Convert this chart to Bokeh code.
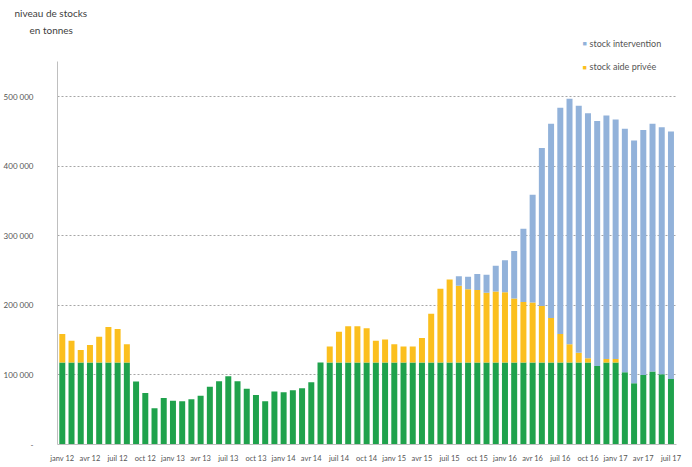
from bokeh.plotting import figure
from bokeh.models import ColumnDataSource, Range1d, FixedTicker, Label, Title
from bokeh.embed import file_html
from bokeh.resources import INLINE

# ---- data (tonnes), monthly janv 12 .. juil 17 ----
tick_labels = ["janv 12", "avr 12", "juil 12", "oct 12", "janv 13", "avr 13", "juil 13", "oct 13",
               "janv 14", "avr 14", "juil 14", "oct 14", "janv 15", "avr 15", "juil 15", "oct 15",
               "janv 16", "avr 16", "juil 16", "oct 16", "janv 17", "avr 17", "juil 17"]

stock_base = [118000, 118000, 118000, 118000, 118000, 118000, 118000, 118000,
              90500, 74000, 52000, 67000, 63000, 62000, 65000, 70000,
              83000, 91000, 98000, 91000, 80000, 71000, 62000, 76000,
              75000, 78000, 81000, 89500, 118000, 118000, 118000, 118000,
              118000, 118000, 118000, 118000, 118000, 118000, 118000, 118000,
              118000, 118000, 118000, 118000, 118000, 118000, 118000, 118000,
              118000, 118000, 118000, 118000, 118000, 118000, 118000, 118000,
              118000, 118000, 113000, 118000, 118000, 104000, 88000, 100000,
              105000, 101000, 94000]

stock_prive = [41000, 31000, 18000, 25000, 37000, 51000, 48000, 26000,
               0, 0, 0, 0, 0, 0, 0, 0,
               0, 0, 0, 0, 0, 0, 0, 0,
               0, 0, 0, 0, 0, 23000, 44000, 52000,
               52000, 49000, 31000, 33000, 26000, 23000, 23000, 35000,
               70000, 106000, 119000, 110000, 105000, 104000, 100000, 102000,
               101000, 92000, 87000, 86000, 81000, 64000, 41000, 26000,
               14000, 6000, 0, 5000, 5000, 0, 0, 0,
               0, 0, 0]

stock_intervention = [0] * 43 + [14000, 18000, 23000, 26000, 37000, 46000, 68000, 105000,
                                 155000, 227000, 279000, 325000, 353000, 355000, 352000, 352000,
                                 350000, 344000, 350000, 349000, 352000, 356000, 355000, 356000]

y_ticks = [0, 100000, 200000, 300000, 400000, 500000]
y_tick_labels = ["-", "100 000", "200 000", "300 000", "400 000", "500 000"]

legend_labels = ["stock intervention", "stock aide privée"]
title_lines = ["niveau de stocks", "en tonnes"]

GREEN = "#1fa24c"
YELLOW = "#fbbf1e"
BLUE = "#92b2da"
FONT = "Lato"
TXT = "#555555"

n = len(stock_base)
src = ColumnDataSource(dict(x=list(range(n)), base=stock_base, prive=stock_prive,
                            interv=stock_intervention))

p = figure(width=690, height=465, output_backend="svg", toolbar_location=None,
           x_range=Range1d(-0.52, 66.6), y_range=Range1d(0, 585000),
           min_border_left=56, min_border_right=14, min_border_top=37, min_border_bottom=19)
p.title.visible = False
p.outline_line_color = None

p.vbar_stack(["base", "prive", "interv"], x="x", width=0.65, source=src,
             color=[GREEN, YELLOW, BLUE], line_color=None)

p.xaxis.ticker = FixedTicker(ticks=[3 * i for i in range(len(tick_labels))])
p.xaxis.major_label_overrides = {3 * i: t for i, t in enumerate(tick_labels)}
p.xaxis.major_tick_line_color = None
p.xaxis.minor_tick_line_color = None
p.xaxis.axis_line_color = "#bfbfbf"
p.xaxis.major_label_text_font = FONT
p.xaxis.major_label_text_font_size = "7.5px"
p.xaxis.major_label_text_color = TXT
p.xaxis.major_label_standoff = 3

p.yaxis.ticker = FixedTicker(ticks=y_ticks)
p.yaxis.bounds = (0, 550000)
p.yaxis.major_label_overrides = {t: l for t, l in zip(y_ticks, y_tick_labels)}
p.yaxis.major_tick_line_color = None
p.yaxis.minor_tick_line_color = None
p.yaxis.axis_line_color = "#bfbfbf"
p.yaxis.major_label_text_font = FONT
p.yaxis.major_label_text_font_size = "8px"
p.yaxis.major_label_text_color = TXT
p.yaxis.major_label_standoff = 18

p.xgrid.grid_line_color = None
p.ygrid.grid_line_color = "#a6a6a6"
p.ygrid.grid_line_dash = "2 2"
p.ygrid.grid_line_width = 1

# axis title: two lines above the plotting area, left of the frame
for txt, off in zip(reversed(title_lines), [-28, -43]):
    p.add_layout(Title(text=txt, align="left", offset=off, standoff=3,
                       text_font=FONT, text_font_size="10px", text_font_style="normal",
                       text_color="#404040"), "above")

# legend (inside the plotting area, top right)
for txt, col, yy in zip(legend_labels, [BLUE, YELLOW], [577000, 542800]):
    p.add_layout(Label(x=56.63, y=yy, text="■", text_align="center", text_baseline="middle",
                       text_font=FONT, text_font_size="7px", text_color=col))
    p.add_layout(Label(x=57.17, y=yy, text=txt, text_align="left", text_baseline="middle",
                       text_font=FONT, text_font_size="9px", text_color=TXT))

open("out.html", "w").write(file_html(p, INLINE))
